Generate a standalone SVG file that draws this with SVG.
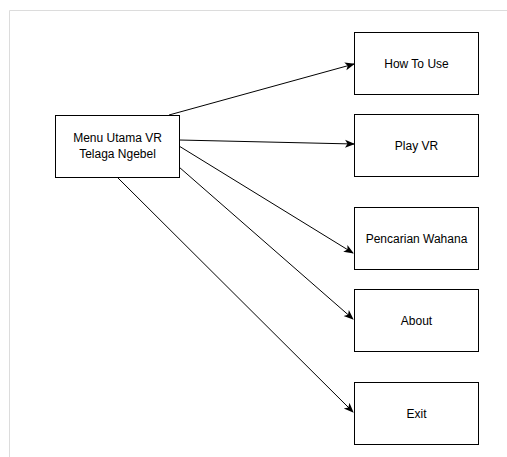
<svg xmlns="http://www.w3.org/2000/svg" width="507" height="457" viewBox="0 0 507 457">
<defs>
<marker id="arr" viewBox="0 0 10 10" refX="9" refY="5" markerWidth="10" markerHeight="10" markerUnits="userSpaceOnUse" orient="auto">
<path d="M0,1 L10,5 L0,9 L2.5,5 Z" fill="#000"/>
</marker>
<style>
.box{fill:#fff;stroke:#000;stroke-width:1}
.lbl{font-family:"Liberation Sans",Arial,sans-serif;font-size:12px;fill:#000;text-anchor:middle}
.edge{fill:none;stroke:#000;stroke-width:1;marker-end:url(#arr)}
</style>
</defs>
<rect width="507" height="457" fill="#fff"/>
<path d="M9.5,457 V10.5 H507" fill="none" stroke="#dcdcdc" stroke-width="1"/>
<g id="connectors">
<path class="edge" d="M169,115 L354,64"/>
<path class="edge" d="M179,140 L354,144"/>
<path class="edge" d="M179,146 L353,253"/>
<path class="edge" d="M179,167 L353,319"/>
<path class="edge" d="M117,177 L353,412"/>
</g>
<g id="menu">
<rect class="box" x="55.5" y="115.5" width="124" height="62"/>
<text class="lbl" x="117.5" y="142">Menu Utama VR</text>
<text class="lbl" x="117.5" y="158">Telaga Ngebel</text>
</g>
<g id="howto">
<rect class="box" x="354.5" y="32.5" width="124" height="62"/>
<text class="lbl" x="416.5" y="67.5">How To Use</text>
</g>
<g id="playvr">
<rect class="box" x="354.5" y="114.5" width="124" height="62"/>
<text class="lbl" x="416.5" y="149.5">Play VR</text>
</g>
<g id="pencarian">
<rect class="box" x="354.5" y="207.5" width="124" height="62"/>
<text class="lbl" x="416.5" y="242.5">Pencarian Wahana</text>
</g>
<g id="about">
<rect class="box" x="354.5" y="289.5" width="124" height="62"/>
<text class="lbl" x="416.5" y="324.5">About</text>
</g>
<g id="exit">
<rect class="box" x="354.5" y="382.5" width="124" height="62"/>
<text class="lbl" x="416.5" y="417.5">Exit</text>
</g>
</svg>
